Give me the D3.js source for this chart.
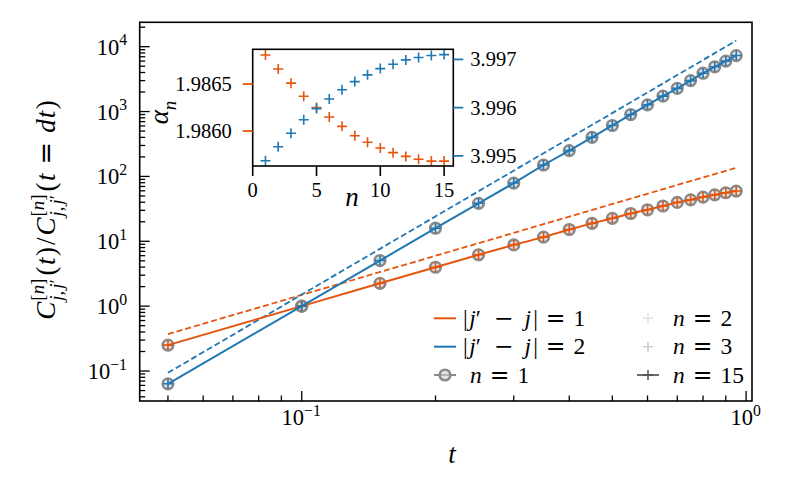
<!DOCTYPE html>
<html><head><meta charset="utf-8">
<script src="https://cdn.jsdelivr.net/npm/d3@7"></script>
<style>body{margin:0;background:#fff} svg{display:block}</style>
</head><body>
<svg id="c" width="790" height="490"></svg>
<script>
// ---------- data ----------
const tValues = [0.05,0.1,0.15,0.2,0.25,0.3,0.35,0.4,0.45,0.5,0.55,0.6,0.65,0.7,0.75,0.8,0.85,0.9,0.95];
const ratioJ1 = [0.251,1,2.25,3.98,6.2,8.8,11.6,15.2,18.9,22.6,26.8,30.6,35.0,39.8,43.6,48.0,52.0,56.0,59.5];
const ratioJ2 = [0.0635,1,5.05,15.9,38.5,79,150,250,400,610,900,1270,1730,2280,3000,3900,4900,6000,7300];
const dashT = [0.05,0.95];
const dashJ1 = [0.371,136];
const dashJ2 = [0.094,12400];
const nValues = [1,2,3,4,5,6,7,8,9,10,11,12,13,14,15];
const alphaJ1 = [1.98681,1.98666,1.98651,1.98637,1.98625,1.98615,1.98605,1.98595,1.98588,1.98582,1.98577,1.98573,1.98570,1.98568,1.98568];
const alphaJ2 = [3.99490,3.99519,3.99547,3.99575,3.99598,3.99618,3.99637,3.99654,3.99668,3.99681,3.99690,3.99699,3.99704,3.99708,3.99710];
const xMajorTicks = [0.1,1];
const xTickExp = ["−1","0"];
const yMajorTicks = [0.1,1,10,100,1000,10000];
const yTickExp = ["−1","0","1","2","3","4"];
const insetXTicks = [0,5,10,15];
const insetLeftTicks = [1.9860,1.9865];
const insetLeftLabels = ["1.9860","1.9865"];
const insetRightTicks = [3.995,3.996,3.997];
const insetRightLabels = ["3.995","3.996","3.997"];

// ---------- style ----------
const ORANGE = "#e6550d", BLUE = "#1f77b4", GRAY = "#8a8a8a";
const FONT = "'Liberation Serif',serif";
const OPFONT = "'DejaVu Sans',sans-serif";
const FS = 23.5, TFS = 22.5, IFS = 20.5, LFS = 27;
const REL = 8, BIN = 11;

const svg = d3.select("#c");

function mathText(g, runs, size) {
  let x = 0;
  function put(r, xx, dy, sz) {
    const t = g.append("text").attr("x", xx).attr("y", dy)
      .attr("font-size", sz).attr("font-family", r.op ? OPFONT : FONT)
      .attr("font-style", r.it ? "italic" : "normal")
      .style("white-space", "pre").text(r.s);
    return t.node().getComputedTextLength();
  }
  runs.forEach(r => {
    x += (r.pre || 0);
    if (r.sup || r.sub) {
      let w1 = 0, w2 = 0;
      if (r.sup) { let xx = x; r.sup.forEach(q => { xx += (q.pre || 0); xx += put(q, xx, -0.42 * size, size * 0.7); xx += (q.post || 0); }); w1 = xx - x; }
      if (r.sub) { let xx = x; r.sub.forEach(q => { xx += (q.pre || 0); xx += put(q, xx, 0.3 * size, size * 0.7); xx += (q.post || 0); }); w2 = xx - x; }
      x += Math.max(w1, w2) + 1;
    } else {
      x += put(r, x, 0, size);
    }
    x += (r.post || 0);
  });
  return x;
}
function placeMath(parent, runs, size, x, y, anchor, rotate) {
  const outer = parent.append("g");
  const inner = outer.append("g");
  const w = mathText(inner, runs, size);
  let dx = 0;
  if (anchor === "middle") dx = -w / 2;
  if (anchor === "end") dx = -w;
  inner.attr("transform", `translate(${dx},0)`);
  outer.attr("transform", `translate(${x},${y})` + (rotate ? ` rotate(${rotate})` : ""));
  return outer;
}

// ---------- main axes ----------
const L = 139.7, R = 752, T = 22.3, B = 401;
const x = d3.scaleLog().domain([0.04319, 1.031]).range([L, R]);
const y = d3.scaleLog().domain([0.0345, 23770]).range([B, T]);

const main = svg.append("g");

const xMinor = [];
[0.01, 0.1].forEach(d => { for (let k = 2; k <= 9; k++) { const v = d * k; if (v > 0.04319 && v < 1.031) xMinor.push(v); } });
const yMinor = [];
[0.01,0.1,1,10,100,1000,10000].forEach(d => { for (let k = 2; k <= 9; k++) { const v = d * k; if (v > 0.0345 && v < 23770) yMinor.push(v); } });

const tickG = main.append("g").attr("stroke", "#000").attr("stroke-width", 1.3);
xMinor.forEach(v => tickG.append("line").attr("x1", x(v)).attr("x2", x(v)).attr("y1", B).attr("y2", B - 5.5));
xMajorTicks.forEach(v => tickG.append("line").attr("x1", x(v)).attr("x2", x(v)).attr("y1", B).attr("y2", B - 10));
yMinor.forEach(v => tickG.append("line").attr("y1", y(v)).attr("y2", y(v)).attr("x1", L).attr("x2", L + 5.5));
yMajorTicks.forEach(v => tickG.append("line").attr("y1", y(v)).attr("y2", y(v)).attr("x1", L).attr("x2", L + 10));

xMajorTicks.forEach((v, i) => {
  placeMath(main, [{s: "10"}, {sup: [{s: xTickExp[i]}]}], TFS, x(v), 425, "middle");
});
yMajorTicks.forEach((v, i) => {
  placeMath(main, [{s: "10"}, {sup: [{s: yTickExp[i]}]}], TFS, 128, y(v) + 8, "end");
});

const line = (xs, ys) => d3.line().x((d, i) => x(xs[i])).y(d => y(d))(ys);
const plot = main.append("g");
plot.append("path").attr("d", line(dashT, dashJ1)).attr("fill", "none").attr("stroke", ORANGE).attr("stroke-width", 1.8).attr("stroke-dasharray", "6,3");
plot.append("path").attr("d", line(dashT, dashJ2)).attr("fill", "none").attr("stroke", BLUE).attr("stroke-width", 1.8).attr("stroke-dasharray", "6,3");

[ratioJ1, ratioJ2].forEach(vals => {
  plot.append("g").selectAll("circle").data(vals).join("circle")
    .attr("cx", (d, i) => x(tValues[i])).attr("cy", d => y(d)).attr("r", 5.3)
    .attr("fill", "#d0d0d0").attr("fill-opacity", 0.6).attr("stroke", GRAY).attr("stroke-width", 2.6);
});
[[ratioJ1, ORANGE], [ratioJ2, BLUE]].forEach(([vals, col]) => {
  plot.append("path").attr("d", line(tValues, vals)).attr("fill", "none").attr("stroke", col).attr("stroke-width", 2);
});
function plus(g, cx, cy, s, col, w, op) {
  g.append("path").attr("d", `M${cx - s},${cy}H${cx + s}M${cx},${cy - s}V${cy + s}`)
    .attr("stroke", col).attr("stroke-width", w).attr("fill", "none").attr("stroke-opacity", op == null ? 1 : op);
}
[[ratioJ1, ORANGE], [ratioJ2, BLUE]].forEach(([vals, col]) => {
  vals.forEach((d, i) => plus(plot, x(tValues[i]), y(d), 5, col, 1.6));
});

main.append("rect").attr("x", L).attr("y", T).attr("width", R - L).attr("height", B - T)
  .attr("fill", "none").attr("stroke", "#000").attr("stroke-width", 1.6);

// axis labels
placeMath(main, [{s: "t", it: true}], LFS, 452, 463, "middle");
const Cjj = [{s: "C", it: true, post: 1}, {sup: [{s: "["}, {s: "n", it: true}, {s: "]"}], sub: [{s: "j", it: true}, {s: ",", post: 1}, {s: "j", it: true, pre: 1}, {s: "′"}], post: 2}];
placeMath(main, [
  ...Cjj, {s: "(", post: 1.5}, {s: "t", it: true, post: 1.5}, {s: ")", post: 2}, {s: "/", post: 2},
  ...Cjj, {s: "(", post: 1.5}, {s: "t", it: true}, {s: "=", op: true, pre: 9, post: 9}, {s: "d", it: true, post: 1}, {s: "t", it: true, post: 1.5}, {s: ")"}
], LFS, 55, 210, "middle", -90);

// legend
const leg = main.append("g");
const rows = [318.3, 346.7, 375];
const c1h = [434, 456], c2h = [637, 659];
leg.append("line").attr("x1", c1h[0]).attr("x2", c1h[1]).attr("y1", rows[0]).attr("y2", rows[0]).attr("stroke", ORANGE).attr("stroke-width", 2);
leg.append("line").attr("x1", c1h[0]).attr("x2", c1h[1]).attr("y1", rows[1]).attr("y2", rows[1]).attr("stroke", BLUE).attr("stroke-width", 2);
leg.append("line").attr("x1", c1h[0]).attr("x2", c1h[1]).attr("y1", rows[2]).attr("y2", rows[2]).attr("stroke", GRAY).attr("stroke-width", 2);
leg.append("circle").attr("cx", (c1h[0] + c1h[1]) / 2).attr("cy", rows[2]).attr("r", 5.3).attr("fill", "#d0d0d0").attr("fill-opacity", 0.6).attr("stroke", GRAY).attr("stroke-width", 2.6);
const jlab = k => [{s: "|", post: 1.5}, {s: "j", it: true}, {s: "′", post: 2}, {s: "−", op: true, pre: BIN, post: BIN}, {s: "j", it: true}, {s: "|", pre: 2}, {s: "=", op: true, pre: REL, post: REL}, {s: String(k)}];
const nlab = k => [{s: "n", it: true}, {s: "=", op: true, pre: REL, post: REL}, {s: String(k)}];
placeMath(leg, jlab(1), FS, 463, rows[0] + 7.5, "start");
placeMath(leg, jlab(2), FS, 463, rows[1] + 7.5, "start");
placeMath(leg, nlab(1), FS, 470, rows[2] + 7.5, "start");
const cx2 = (c2h[0] + c2h[1]) / 2;
plus(leg, cx2, rows[0], 5, "#000", 1.6, 0.12);
plus(leg, cx2, rows[1], 5, "#000", 1.6, 0.2);
leg.append("line").attr("x1", c2h[0]).attr("x2", c2h[1]).attr("y1", rows[2]).attr("y2", rows[2]).attr("stroke", "#555").attr("stroke-opacity", 0.85).attr("stroke-width", 2);
plus(leg, cx2, rows[2], 5, "#555", 1.8, 0.85);
placeMath(leg, nlab(2), FS, 673, rows[0] + 7.5, "start");
placeMath(leg, nlab(3), FS, 673, rows[1] + 7.5, "start");
placeMath(leg, nlab(15), FS, 673, rows[2] + 7.5, "start");

// ---------- inset ----------
const iL = 252.7, iR = 453.3, iT = 49.3, iB = 166;
const ix = d3.scaleLinear().domain([0, 15.72]).range([iL, iR]);
const iyL = d3.scaleLinear().domain([1.985628, 1.98687]).range([iB, iT]);
const iyR = d3.scaleLinear().domain([3.99479, 3.99721]).range([iB, iT]);
const inset = svg.append("g");
inset.append("rect").attr("x", iL).attr("y", iT).attr("width", iR - iL).attr("height", iB - iT).attr("fill", "#fff");
alphaJ1.forEach((d, i) => plus(inset, ix(nValues[i]), iyL(d), 5, ORANGE, 1.6));
alphaJ2.forEach((d, i) => plus(inset, ix(nValues[i]), iyR(d), 5, BLUE, 1.6));
inset.append("rect").attr("x", iL).attr("y", iT).attr("width", iR - iL).attr("height", iB - iT)
  .attr("fill", "none").attr("stroke", "#000").attr("stroke-width", 1.6);
insetXTicks.forEach(v => {
  inset.append("line").attr("x1", ix(v)).attr("x2", ix(v)).attr("y1", iB).attr("y2", iB + 10).attr("stroke", "#000").attr("stroke-width", 1.6);
  placeMath(inset, [{s: String(v)}], IFS, ix(v), iB + 31, "middle");
});
insetLeftTicks.forEach((v, i) => {
  inset.append("line").attr("x1", iL - 10).attr("x2", iL).attr("y1", iyL(v)).attr("y2", iyL(v)).attr("stroke", ORANGE).attr("stroke-width", 1.8);
  placeMath(inset, [{s: insetLeftLabels[i]}], IFS, iL - 21, iyL(v) + 7, "end");
});
insetRightTicks.forEach((v, i) => {
  inset.append("line").attr("x1", iR).attr("x2", iR + 10).attr("y1", iyR(v)).attr("y2", iyR(v)).attr("stroke", BLUE).attr("stroke-width", 1.8);
  placeMath(inset, [{s: insetRightLabels[i]}], IFS, iR + 17, iyR(v) + 7, "start");
});
placeMath(inset, [{s: "n", it: true}], LFS, 352, 206, "middle");
placeMath(inset, [{s: "α", it: true}, {sub: [{s: "n", it: true}]}], LFS, 168, 112, "middle", -90);
</script>
</body></html>
